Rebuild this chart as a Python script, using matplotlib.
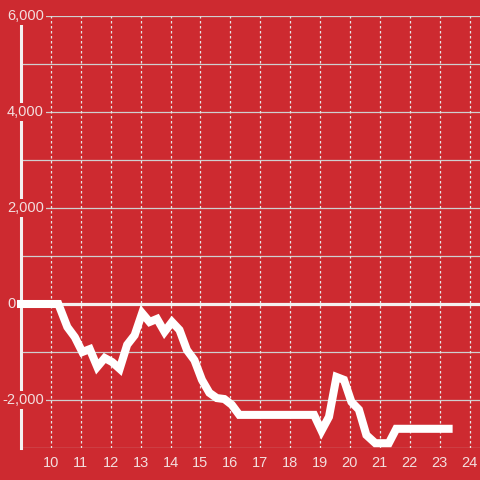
import matplotlib
matplotlib.use("Agg")
import matplotlib.pyplot as plt
import matplotlib.transforms as mtransforms

bg = "#cd2a30"
txt = "#f3dede"

# hours of the day and the balance at each time
hours = [9.0, 10.25, 10.55, 10.8, 11.05, 11.3, 11.55, 11.8, 12.05, 12.3,
         12.55, 12.8, 13.05, 13.3, 13.55, 13.8, 14.05, 14.3, 14.55, 14.8,
         15.05, 15.3, 15.55, 15.8, 16.05, 16.3, 18.8, 19.05, 19.3, 19.55,
         19.8, 20.05, 20.3, 20.55, 20.85, 21.3, 21.55, 23.3]
values = [0, 0, -480, -690, -1000, -940, -1310, -1125, -1210, -1350,
          -850, -650, -190, -375, -310, -580, -375, -540, -960, -1170,
          -1580, -1850, -1960, -1980, -2100, -2310, -2310, -2640, -2350, -1520,
          -1580, -2040, -2200, -2730, -2900, -2900, -2600, -2600]

x_ticks = list(range(10, 25))
y_labels = [6000, 4000, 2000, 0, -2000]
y_grid = list(range(-3000, 7000, 1000))

plt.rcParams["font.family"] = ["Liberation Sans", "DejaVu Sans"]

fig = plt.figure(figsize=(4.8, 4.8), dpi=100, facecolor=bg)
ax = fig.add_axes([21 / 480, 32 / 480, 459 / 480, 432 / 480])
ax.set_facecolor(bg)

ax.set_xlim(9.0, 24.35)
ax.set_ylim(-3000, 6000)

# grid
for y in y_grid:
    ax.axhline(y, color="#cfcfcf", lw=0.9, zorder=1)
for x in x_ticks:
    ax.axvline(x, color="#e6e6e6", lw=0.9, ls=(0, (2, 2)), zorder=1)
ax.axhline(0, color="#f4f0f0", lw=2.3, zorder=2)

for s in ["top", "right", "bottom"]:
    ax.spines[s].set_visible(False)
ax.spines["left"].set_color("#f4f0f0")
ax.spines["left"].set_linewidth(2.2)
ax.spines["left"].set_zorder(2)

ax.set_yticks([])
ax.set_xticks(x_ticks)
ax.set_xticklabels([str(x) for x in x_ticks])
ax.tick_params(axis="x", length=0, pad=6, labelsize=10.5, labelcolor=txt)

# y labels sit over the axis line with a background box
for v in y_labels:
    off = -19 if v < 0 else -14
    tr = mtransforms.offset_copy(ax.get_yaxis_transform(), fig=fig, x=off, y=0, units="dots")
    ax.text(0, v, f"{v:,}".replace("-", "-"), transform=tr, ha="left", va="center",
            fontsize=10.5, color=txt, zorder=3, clip_on=False,
            bbox=dict(facecolor=bg, edgecolor="none", pad=1.5))

ax.plot(hours, values, color="white", lw=5.8, solid_capstyle="projecting",
        solid_joinstyle="miter", zorder=4, clip_on=False)

fig.savefig("out.png", dpi=100, facecolor=bg)
